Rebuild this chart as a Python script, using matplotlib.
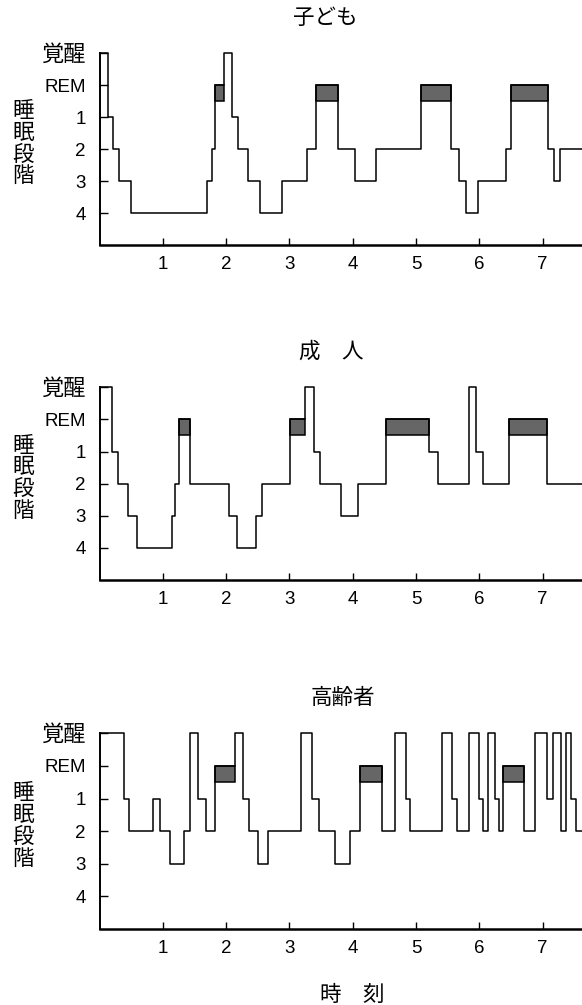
import matplotlib
matplotlib.use('Agg')
import matplotlib.pyplot as plt
from matplotlib.patches import Rectangle
from matplotlib.transforms import blended_transform_factory

plt.rcParams['font.family'] = ['Liberation Sans', 'Noto Sans CJK JP', 'DejaVu Sans']

# ---- data ----
stage_labels = ['覚醒', 'REM', '1', '2', '3', '4']
stage_codes = ['W', 'R', '1', '2', '3', '4']
hour_ticks = [1, 2, 3, 4, 5, 6, 7]
end_time = 7.62

child_title = '子ども'
child_times = [0, 0.13, 0.21, 0.31, 0.50, 1.69, 1.77, 1.83, 1.96, 2.09, 2.19, 2.34, 2.54,
               2.89, 3.27, 3.42, 3.77, 4.04, 4.37, 5.07, 5.55, 5.68, 5.79, 5.97, 6.42,
               6.50, 7.08, 7.18, 7.27]
child_stages = ['W', '1', '2', '3', '4', '3', '2', 'R', 'W', '1', '2', '3', '4',
                '3', '2', 'R', '2', '3', '2', 'R', '2', '3', '4', '3', '2',
                'R', '2', '3', '2']

adult_title = '成　人'
adult_times = [0, 0.20, 0.29, 0.45, 0.59, 1.14, 1.19, 1.26, 1.43, 2.05, 2.17, 2.47, 2.57,
               3.01, 3.25, 3.39, 3.49, 3.81, 4.09, 4.53, 5.20, 5.34, 5.84, 5.94, 6.06,
               6.46, 7.07]
adult_stages = ['W', '1', '2', '3', '4', '3', '2', 'R', '2', '3', '4', '3', '2',
                'R', 'W', '1', '2', '3', '2', 'R', '1', '2', 'W', '1', '2',
                'R', '2']

elderly_title = '高齢者'
elderly_times = [0, 0.39, 0.47, 0.84, 0.95, 1.12, 1.34, 1.43, 1.55, 1.68, 1.83, 2.14, 2.26,
                 2.36, 2.50, 2.66, 3.18, 3.35, 3.47, 3.72, 3.96, 4.12, 4.46, 4.67, 4.84,
                 4.91, 5.41, 5.57, 5.64, 5.83, 5.99, 6.06, 6.13, 6.24, 6.31, 6.38, 6.71,
                 6.88, 7.06, 7.16, 7.29, 7.37, 7.45, 7.53]
elderly_stages = ['W', '1', '2', '1', '2', '3', '2', 'W', '1', '2', 'R', 'W', '1',
                  '2', '3', '2', 'W', '1', '2', '3', '2', 'R', '2', 'W', '1',
                  '2', 'W', '1', '2', 'W', '1', '2', 'W', '1', '2', 'R', '2',
                  'W', '1', 'W', '2', 'W', '1', '2']

xlabel = '時　刻'
ylabel = '睡\n眠\n段\n階'

panels = [
    (child_title, child_times, child_stages),
    (adult_title, adult_times, adult_stages),
    (elderly_title, elderly_times, elderly_stages),
]

# ---- layout ----
W, H = 582, 1005
fig = plt.figure(figsize=(W / 100, H / 100), dpi=100)

# (top px, bottom px, title x fraction)
boxes = [(53, 245, 0.467), (387.3, 580, 0.480), (733.3, 929, 0.505)]
left_px = 99.5

level = {c: i for i, c in enumerate(stage_codes)}

for (title, times, stages), (top, bot, tx) in zip(panels, boxes):
    ax = fig.add_axes([left_px / W, 1 - bot / H, 1 - left_px / W, (bot - top) / H])
    xs = list(times) + [end_time]
    ys = [level[s] for s in stages]
    ys = ys + [ys[-1]]
    ax.step(xs, ys, where='post', color='black', lw=1.1, clip_on=False, zorder=4)
    for i, s in enumerate(stages):
        if s == 'R':
            t0 = times[i]
            t1 = times[i + 1] if i + 1 < len(times) else end_time
            ax.add_patch(Rectangle((t0, level['R']), t1 - t0, 0.5,
                                   facecolor='#666666', edgecolor='black',
                                   lw=1.1, zorder=3))
    ax.set_xlim(0, end_time)
    ax.set_ylim(6, 0)
    ax.set_yticks(range(len(stage_labels)))
    ax.set_yticklabels(stage_labels)
    ax.set_xticks(hour_ticks)
    ax.set_xticklabels([str(h) for h in hour_ticks])
    ax.tick_params(axis='y', direction='in', length=6, width=1, pad=10, labelsize=13.5)
    ax.tick_params(axis='x', direction='in', length=5, width=1, pad=8, labelsize=13.5)
    ax.get_yticklabels()[0].set_fontsize(16)
    for sp in ['top', 'right']:
        ax.spines[sp].set_visible(False)
    ax.spines['left'].set_linewidth(1.4)
    ax.spines['bottom'].set_linewidth(1.8)
    ax.patch.set_alpha(0)
    ax.text(tx, 1 + 35 / (bot - top), title, transform=ax.transAxes,
            ha='center', va='center', fontsize=15.5)
    tr = blended_transform_factory(fig.transFigure, ax.transData)
    ax.text(23 / W, 2.85, ylabel, transform=tr, ha='center', va='center',
            fontsize=15.5, linespacing=1.05)

fig.text(352 / W, 1 - 995 / H, xlabel, ha='center', va='center', fontsize=15.5)

fig.savefig('out.png', dpi=100)
